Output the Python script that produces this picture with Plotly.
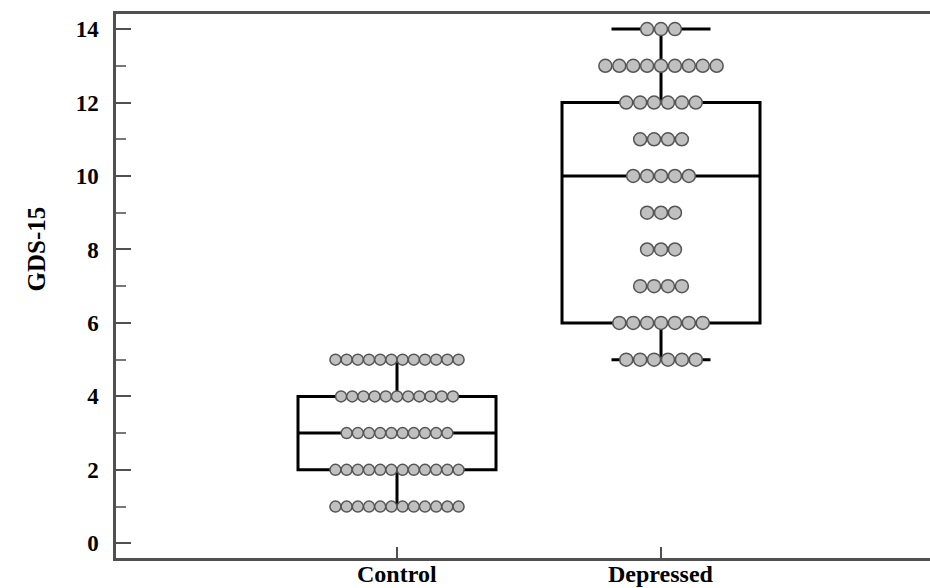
import numpy as np
import plotly.graph_objects as go

# GDS-15 scores and how many subjects scored each value
groups = ["Control", "Depressed"]
control_scores = [1, 2, 3, 4, 5]
control_counts = [12, 12, 10, 11, 12]
depressed_scores = [5, 6, 7, 8, 9, 10, 11, 12, 13, 14]
depressed_counts = [6, 7, 4, 3, 3, 5, 4, 6, 9, 3]

y_ticks = [0, 2, 4, 6, 8, 10, 12, 14]

FONT = "Liberation Serif"
AXIS_GREY = "#505050"


def expand(scores, counts):
    return np.repeat(np.array(scores), np.array(counts))


def dot_offsets(scores, counts, step):
    """Centre each row of equal scores on the group position."""
    xs, ys = [], []
    for s, n in zip(scores, counts):
        for i in range(n):
            xs.append((i - (n - 1) / 2) * step)
            ys.append(s)
    return np.array(xs), np.array(ys)


group_data = [
    (control_scores, control_counts, 0.0424, 11),
    (depressed_scores, depressed_counts, 0.0527, 13),
]

fig = go.Figure()

# box-and-whisker summaries
for gi, (scores, counts, _, _) in enumerate(group_data):
    vals = expand(scores, counts)
    q1, med, q3 = np.percentile(vals, [25, 50, 75], method="nearest")
    fig.add_trace(go.Box(
        x=[gi], q1=[q1], median=[med], q3=[q3],
        lowerfence=[vals.min()], upperfence=[vals.max()],
        width=0.75, whiskerwidth=0.5,
        line=dict(color="black", width=3),
        fillcolor="rgba(0,0,0,0)",
        boxpoints=False, hoverinfo="skip", showlegend=False,
    ))

# individual subjects as dot rows
for gi, (scores, counts, step, size) in enumerate(group_data):
    dx, dy = dot_offsets(scores, counts, step)
    fig.add_trace(go.Scatter(
        x=gi + dx, y=dy, mode="markers",
        marker=dict(size=size, color="#c0c0c0",
                    line=dict(color="#555555", width=1.5)),
        hoverinfo="skip", showlegend=False,
    ))

# group names sit tight under the axis line
group_labels = [
    dict(text=g, xref="x", x=i, xanchor="center",
         yref="paper", y=0, yanchor="top", yshift=-2, borderpad=0,
         showarrow=False,
         font=dict(family=FONT, size=24, weight="bold", color="black"))
    for i, g in enumerate(groups)
]

fig.update_layout(
    width=930, height=588,
    margin=dict(l=116, r=0, t=14, b=30),
    paper_bgcolor="white", plot_bgcolor="white",
    font=dict(family=FONT, color="black"),
    xaxis=dict(
        range=[-1.0644, 2.0189], automargin=False,
        tickvals=[0, 1], showticklabels=False,
        ticks="inside", ticklen=11, tickwidth=2, tickcolor=AXIS_GREY,
        showline=True, linecolor=AXIS_GREY, linewidth=2.5, mirror=True,
        showgrid=False, zeroline=False,
    ),
    yaxis=dict(
        range=[-0.40, 14.41], automargin=False,
        tickvals=y_ticks,
        ticks="inside", ticklen=15, tickwidth=2, tickcolor=AXIS_GREY,
        minor=dict(dtick=1, ticks="inside", ticklen=10, tickwidth=1.5,
                   tickcolor="#777777", showgrid=False),
        showline=True, linecolor=AXIS_GREY, linewidth=2.5, mirror=False,
        showgrid=False, zeroline=False,
        tickfont=dict(family=FONT, size=23, weight="bold", color="black"),
        ticklabelstandoff=10,
    ),
    annotations=group_labels + [dict(
        text="GDS-15", textangle=-90,
        xref="paper", x=0, xanchor="center", xshift=-80,
        yref="y", y=8, yanchor="middle",
        showarrow=False,
        font=dict(family=FONT, size=25, weight="bold", color="black"),
    )],
)

fig.write_html("out.html")
